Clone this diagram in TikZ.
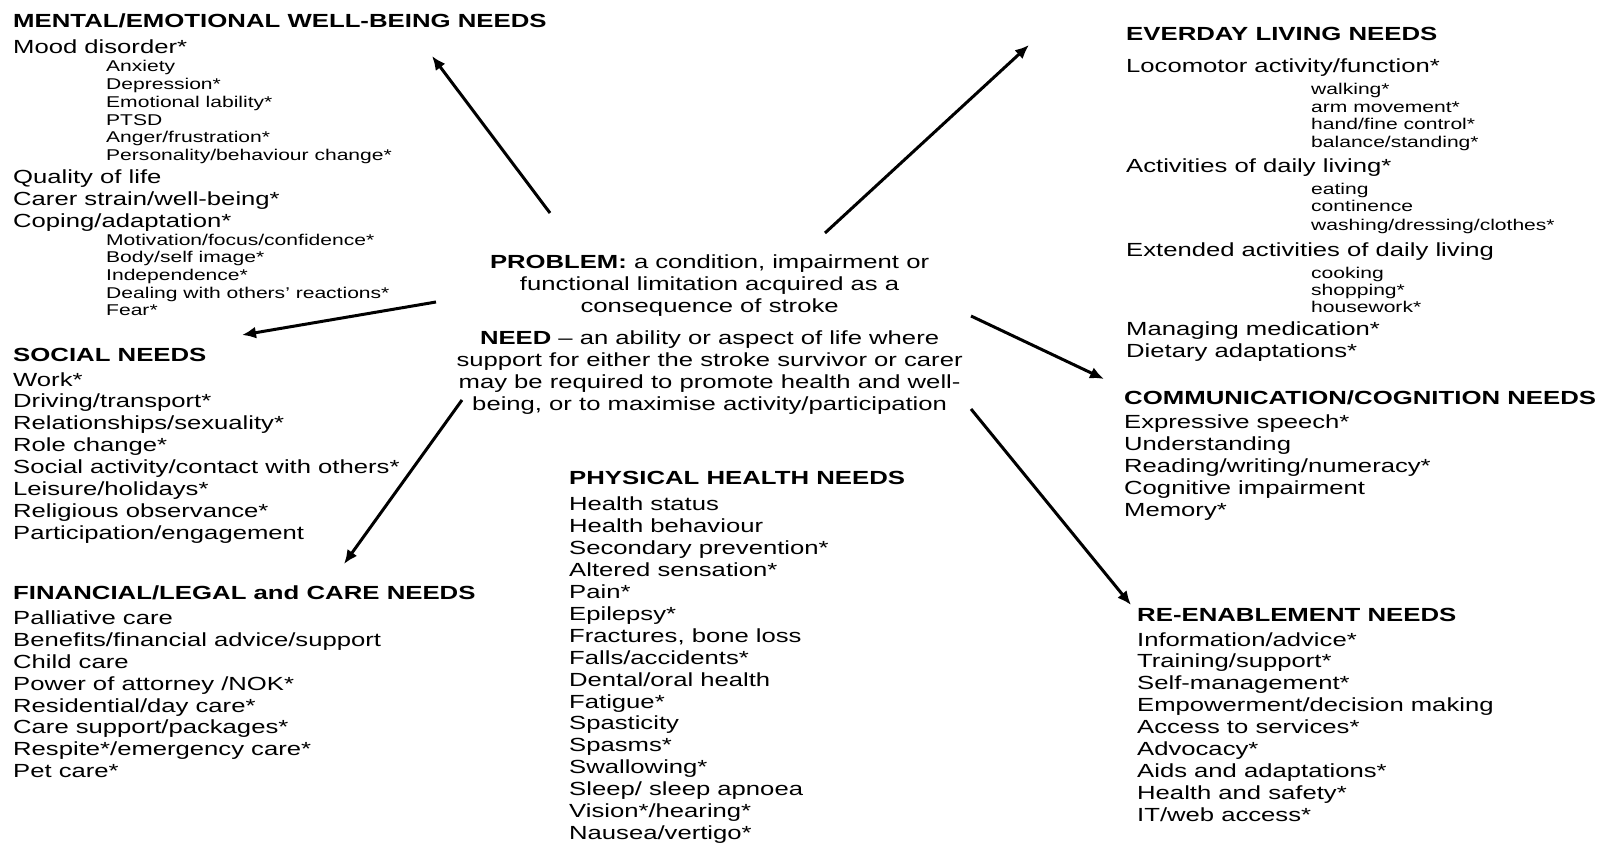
\documentclass[tikz,border=0pt]{standalone}
\usepackage{fontspec}
\setmainfont{Liberation Sans}[FakeStretch=1.35]
\newfontfamily\headfamily{Liberation Sans}[FakeStretch=1.356]
\usetikzlibrary{arrows.meta}
\newcommand{\itemsize}{\fontsize{19}{21.8}\selectfont}
\newcommand{\subsize}{\fontsize{15.6}{18}\selectfont}

\begin{document}
\begin{tikzpicture}[x=1pt,y=-1pt,
  head/.style={anchor=west,inner sep=0pt,text height=13.7pt,text depth=0pt,font=\itemsize\headfamily\bfseries},
  entry/.style={anchor=west,inner sep=0pt,text height=13.7pt,text depth=0pt,font=\itemsize},
  subentry/.style={anchor=west,inner sep=0pt,text height=11.3pt,text depth=0pt,font=\subsize},
  arr/.style={-{Latex[length=14pt,width=12pt]},line width=3pt}]
\useasboundingbox (0,0) rectangle (1598,843);
% mental / emotional well-being
\node[head] (ment) at (13,20.4) {MENTAL/EMOTIONAL WELL-BEING NEEDS};
\node[entry] (ment-mood) at (13,46.9) {Mood disorder*};
\foreach \t [count=\i from 0] in {Anxiety, Depression*, Emotional lability*, PTSD,
    Anger/frustration*, Personality/behaviour change*}
  \node[subentry] (ment-a\i) at (106,66.3+17.74*\i) {\t};
\foreach \t [count=\i from 0] in {Quality of life, Carer strain/well-being*, Coping/adaptation*}
  \node[entry] (ment-b\i) at (13,176.4+21.9*\i) {\t};
\foreach \t [count=\i from 0] in {Motivation/focus/confidence*, Body/self image*, Independence*,
    Dealing with others' reactions*, Fear*}
  \node[subentry] (ment-c\i) at (106,239.6+17.6*\i) {\t};
% social
\node[head] (soc) at (13,354.8) {SOCIAL NEEDS};
\foreach \t [count=\i from 0] in {Work*, Driving/transport*, Relationships/sexuality*, Role change*,
    Social activity/contact with others*, Leisure/holidays*, Religious observance*,
    Participation/engagement}
  \node[entry] (soc\i) at (13,379.2+21.86*\i) {\t};
% financial / legal / care
\node[head] (fin) at (13,592.3) {FINANCIAL/LEGAL and CARE NEEDS};
\foreach \t [count=\i from 0] in {Palliative care, Benefits/financial advice/support, Child care,
    Power of attorney /NOK*, Residential/day care*, Care support/packages*,
    Respite*/emergency care*, Pet care*}
  \node[entry] (fin\i) at (13,617.8+21.84*\i) {\t};
% physical health
\node[head] (phys) at (569,478.1) {PHYSICAL HEALTH NEEDS};
\foreach \t [count=\i from 0] in {Health status, Health behaviour, Secondary prevention*,
    Altered sensation*, Pain*, Epilepsy*, {Fractures, bone loss}, Falls/accidents*,
    Dental/oral health, Fatigue*, Spasticity, Spasms*, Swallowing*, Sleep/ sleep apnoea,
    Vision*/hearing*, Nausea/vertigo*}
  \node[entry] (phys\i) at (569,503.6+21.95*\i) {\t};
% everyday living
\node[head] (every) at (1126,33.6) {EVERDAY LIVING NEEDS};
\node[entry] (every-loco) at (1126,65.2) {Locomotor activity/function*};
\foreach \t [count=\i from 0] in {walking*, arm movement*, hand/fine control*, balance/standing*}
  \node[subentry] (every-a\i) at (1311,88.7+17.67*\i) {\t};
\node[entry] (every-adl) at (1126,165.2) {Activities of daily living*};
\node[subentry] (every-eat) at (1311,188.6) {eating};
\node[subentry] (every-cont) at (1311,205.9) {continence};
\node[subentry] (every-wash) at (1311,225.3) {washing/dressing/clothes*};
\node[entry] (every-eadl) at (1126,249.8) {Extended activities of daily living};
\foreach \t [count=\i from 0] in {cooking, shopping*, housework*}
  \node[subentry] (every-c\i) at (1311,273.2+16.9*\i) {\t};
\node[entry] (every-med) at (1126,328.3) {Managing medication*};
\node[entry] (every-diet) at (1126,350.7) {Dietary adaptations*};
% communication / cognition
\node[head] (comm) at (1124,397.6) {COMMUNICATION/COGNITION NEEDS};
\foreach \t [count=\i from 0] in {Expressive speech*, Understanding, Reading/writing/numeracy*,
    Cognitive impairment, Memory*}
  \node[entry] (comm\i) at (1124,422.1+21.9*\i) {\t};
% re-enablement
\node[head] (reen) at (1137,614.8) {RE-ENABLEMENT NEEDS};
\foreach \t [count=\i from 0] in {Information/advice*, Training/support*, Self-management*,
    Empowerment/decision making, Access to services*, Advocacy*, Aids and adaptations*,
    Health and safety*, IT/web access*}
  \node[entry] (reen\i) at (1137,639.2+21.93*\i) {\t};
% definitions in the middle
\node[inner sep=0pt,align=center,font=\itemsize] (prob) at (709.6,285.3)
  {\textbf{PROBLEM:} a condition, impairment or\\functional limitation acquired as a\\consequence of stroke};
\node[inner sep=0pt,align=center,font=\itemsize] (need) at (709.6,372.5)
  {\textbf{NEED} -- an ability or aspect of life where\\support for either the stroke survivor or carer\\
   may be required to promote health and well-\\being, or to maximise activity/participation};
% arrows
\coordinate (ment-from) at (550,213);  \coordinate (ment-to) at (432,56);
\coordinate (every-from) at (825,233); \coordinate (every-to) at (1029,45);
\coordinate (soc-from) at (436,302);   \coordinate (soc-to) at (242,335);
\coordinate (comm-from) at (971,316);  \coordinate (comm-to) at (1104,379);
\coordinate (fin-from) at (462,400);   \coordinate (fin-to) at (344,564);
\coordinate (reen-from) at (971,409);  \coordinate (reen-to) at (1131,605);
\draw[arr] (ment-from) -- (ment-to);
\draw[arr] (every-from) -- (every-to);
\draw[arr] (soc-from) -- (soc-to);
\draw[arr] (comm-from) -- (comm-to);
\draw[arr] (fin-from) -- (fin-to);
\draw[arr] (reen-from) -- (reen-to);
\end{tikzpicture}
\end{document}
